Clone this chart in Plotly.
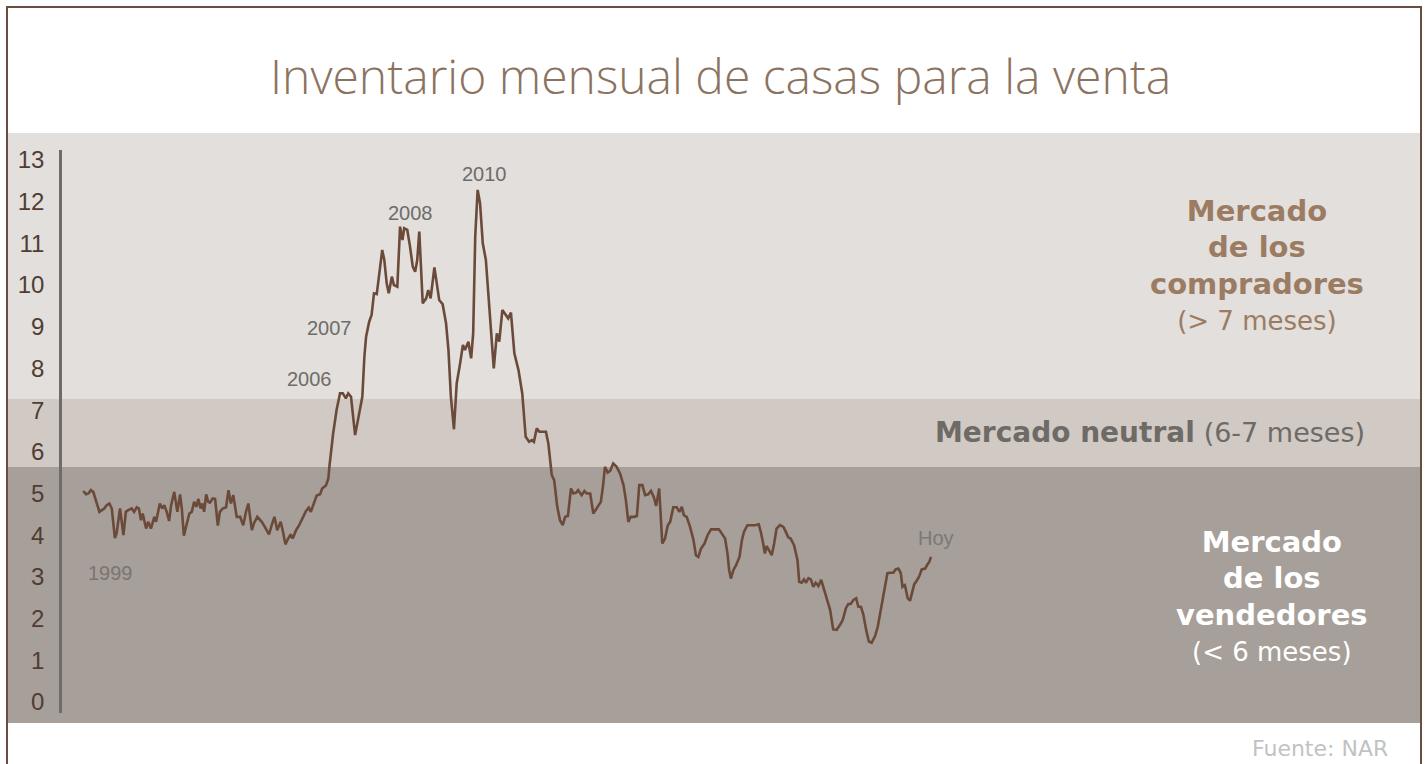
import plotly.graph_objects as go

# ---------------- data ----------------
years = [
    1999.00, 1999.08, 1999.15, 1999.22, 1999.29, 1999.37, 1999.47, 1999.54, 1999.61, 1999.68,
    1999.76, 1999.83, 1999.92, 1999.97, 2000.07, 2000.17, 2000.24, 2000.31, 2000.41, 2000.48,
    2000.56, 2000.62, 2000.68, 2000.73, 2000.83, 2000.89, 2000.97, 2001.07, 2001.12, 2001.23,
    2001.30, 2001.36, 2001.43, 2001.50, 2001.56, 2001.65, 2001.74, 2001.82, 2001.87, 2001.93,
    2002.01, 2002.09, 2002.16, 2002.23, 2002.30, 2002.35, 2002.42, 2002.47, 2002.52, 2002.58,
    2002.64, 2002.69, 2002.77, 2002.84, 2002.92, 2002.98, 2003.06, 2003.16, 2003.23, 2003.30,
    2003.37, 2003.47, 2003.57, 2003.66, 2003.74, 2003.81, 2003.91, 2003.97, 2004.07, 2004.20,
    2004.29, 2004.41, 2004.49, 2004.57, 2004.65, 2004.75, 2004.81, 2004.89, 2004.97, 2005.04,
    2005.10, 2005.20, 2005.29, 2005.39, 2005.49, 2005.57, 2005.63, 2005.70, 2005.80, 2005.90,
    2005.96, 2006.07, 2006.14, 2006.17, 2006.28, 2006.38, 2006.48, 2006.56, 2006.65, 2006.72,
    2006.80, 2006.92, 2007.01, 2007.13, 2007.19, 2007.24, 2007.33, 2007.40, 2007.47, 2007.55,
    2007.65, 2007.71, 2007.77, 2007.84, 2007.90, 2007.99, 2008.05, 2008.15, 2008.23, 2008.30,
    2008.35, 2008.44, 2008.52, 2008.60, 2008.67, 2008.73, 2008.79, 2008.83, 2008.89, 2008.99,
    2009.05, 2009.12, 2009.23, 2009.30, 2009.37, 2009.47, 2009.57, 2009.64, 2009.71, 2009.80,
    2009.88, 2009.98, 2010.06, 2010.12, 2010.22, 2010.30, 2010.36, 2010.42, 2010.49, 2010.56,
    2010.64, 2010.73, 2010.82, 2010.90, 2010.96, 2011.05, 2011.12, 2011.21, 2011.30, 2011.38,
    2011.46, 2011.56, 2011.68, 2011.79, 2011.89, 2011.99, 2012.07, 2012.13, 2012.21, 2012.29,
    2012.39, 2012.48, 2012.55, 2012.65, 2012.72, 2012.81, 2012.89, 2012.97, 2013.04, 2013.12,
    2013.21, 2013.28, 2013.36, 2013.42, 2013.52, 2013.60, 2013.67, 2013.77, 2013.86, 2013.96,
    2014.08, 2014.14, 2014.20, 2014.28, 2014.35, 2014.44, 2014.54, 2014.64, 2014.74, 2014.81,
    2014.88, 2014.95, 2015.05, 2015.13, 2015.20, 2015.29, 2015.37, 2015.46, 2015.54, 2015.63,
    2015.69, 2015.78, 2015.80, 2015.87, 2015.95, 2016.03, 2016.10, 2016.19, 2016.29, 2016.37,
    2016.44, 2016.50, 2016.58, 2016.68, 2016.78, 2016.85, 2016.92, 2017.00, 2017.10, 2017.19,
    2017.29, 2017.41, 2017.52, 2017.62, 2017.70, 2017.77, 2017.82, 2017.87, 2017.94, 2018.02,
    2018.12, 2018.19, 2018.25, 2018.35, 2018.45, 2018.57, 2018.68, 2018.74, 2018.81, 2018.86,
    2018.91, 2018.99, 2019.06, 2019.13, 2019.20, 2019.30, 2019.40, 2019.47, 2019.54, 2019.61,
    2019.71, 2019.81, 2019.86, 2019.93, 2020.00, 2020.06, 2020.13, 2020.20, 2020.27, 2020.34,
    2020.42, 2020.50, 2020.56, 2020.64, 2020.76, 2020.85, 2020.95, 2021.05, 2021.13, 2021.22,
    2021.29, 2021.36, 2021.44, 2021.52, 2021.58, 2021.66, 2021.73, 2021.81, 2021.89, 2021.97,
    2022.07, 2022.15, 2022.24, 2022.33, 2022.43, 2022.51, 2022.60, 2022.67, 2022.75, 2022.82,
    2022.87, 2022.94, 2023.02, 2023.09, 2023.16, 2023.21, 2023.30, 2023.36, 2023.43, 2023.53,
    2023.59, 2023.65, 2023.70,
]

months_supply = [
    5.06, 4.98, 5.00, 5.08, 5.04, 4.84, 4.56, 4.60, 4.64, 4.72,
    4.76, 4.64, 3.93, 4.04, 4.64, 4.00, 4.56, 4.60, 4.64, 4.56,
    4.67, 4.64, 4.36, 4.52, 4.16, 4.32, 4.16, 4.44, 4.32, 4.76,
    4.64, 4.72, 4.56, 4.34, 4.72, 5.04, 4.56, 4.98, 4.64, 3.99,
    4.24, 4.52, 4.56, 4.80, 4.68, 4.87, 4.64, 4.76, 4.56, 4.98,
    4.80, 4.78, 4.88, 4.87, 4.23, 4.56, 4.64, 4.67, 5.08, 4.76,
    4.96, 4.44, 4.44, 4.24, 4.56, 4.76, 4.12, 4.28, 4.44, 4.32,
    4.20, 4.02, 4.24, 4.44, 4.12, 4.32, 4.12, 3.78, 3.92, 4.02,
    3.92, 4.12, 4.24, 4.42, 4.58, 4.66, 4.56, 4.72, 4.95, 4.98,
    5.12, 5.19, 5.36, 5.64, 6.44, 7.00, 7.40, 7.40, 7.28, 7.40,
    7.32, 6.40, 6.84, 7.32, 8.28, 8.76, 9.12, 9.28, 9.80, 9.78,
    10.44, 10.84, 10.60, 10.04, 9.80, 10.20, 10.00, 9.96, 11.40, 11.08,
    11.36, 11.32, 10.92, 10.44, 10.32, 10.60, 11.28, 10.68, 9.56, 9.68,
    9.88, 9.68, 10.42, 10.04, 9.64, 9.54, 9.08, 8.44, 7.32, 6.54,
    7.64, 8.12, 8.56, 8.44, 8.64, 8.24, 8.84, 11.16, 12.28, 11.96,
    11.00, 10.60, 9.56, 8.76, 8.00, 8.84, 8.64, 9.40, 9.28, 9.20,
    9.34, 8.36, 7.96, 7.40, 6.36, 6.24, 6.28, 6.24, 6.56, 6.48,
    6.48, 6.48, 6.20, 5.44, 5.32, 4.68, 4.36, 4.24, 4.44, 4.46,
    5.12, 5.00, 5.02, 5.08, 4.96, 5.06, 5.00, 5.00, 4.52, 4.64,
    4.80, 5.16, 5.64, 5.50, 5.54, 5.72, 5.64, 5.48, 5.20, 4.84,
    4.32, 4.44, 4.44, 4.46, 5.20, 5.20, 4.96, 4.98, 5.06, 4.90,
    4.70, 5.12, 4.76, 3.80, 3.92, 4.24, 4.32, 4.67, 4.67, 4.56,
    4.68, 4.48, 4.44, 4.20, 3.88, 3.52, 3.48, 3.68, 3.80, 4.00,
    4.14, 4.14, 4.14, 4.02, 3.92, 3.56, 3.16, 2.96, 3.16, 3.28,
    3.48, 3.88, 4.08, 4.24, 4.24, 4.24, 4.26, 4.08, 3.80, 3.56,
    3.74, 3.60, 3.52, 3.80, 4.16, 4.24, 4.20, 4.08, 3.95, 3.92,
    3.76, 3.40, 2.88, 2.86, 2.94, 2.86, 2.97, 2.94, 2.76, 2.86,
    2.78, 2.93, 2.76, 2.49, 2.21, 1.74, 1.73, 1.85, 1.97, 2.25,
    2.35, 2.35, 2.45, 2.49, 2.29, 2.28, 2.09, 1.73, 1.45, 1.42,
    1.58, 1.81, 2.25, 2.69, 3.09, 3.10, 3.10, 3.18, 3.20, 3.09,
    2.76, 2.80, 2.49, 2.43, 2.65, 2.82, 2.93, 3.02, 3.18, 3.20,
    3.29, 3.36, 3.48,
]

tick_values = list(range(0, 14))
tick_labels = [str(v) for v in tick_values]

point_labels = ["1999", "2006", "2007", "2008", "2010", "Hoy"]
point_label_years = [1999.78, 2005.60, 2006.18, 2008.52, 2010.70, 2023.84]
point_label_values = [3.09, 7.75, 8.97, 11.73, 12.66, 3.93]

title_text = "Inventario mensual de casas para la venta"
buyers_lines = ["Mercado", "de los", "compradores"]
buyers_range = "(> 7 meses)"
neutral_bold = "Mercado neutral"
neutral_range = "(6-7 meses)"
sellers_lines = ["Mercado", "de los", "vendedores"]
sellers_range = "(< 6 meses)"
source_text = "Fuente: NAR"

# ---------------- layout helpers (pixel -> paper) ----------------
W, H = 1426, 764
L, R, T, B = 62, 6, 150, 51
PW, PH = W - L - R, H - T - B


def px(x):
    return (x - L) / PW


def py(y):
    return (H - B - y) / PH


BROWN = "#6b4a3a"
TITLE_FONT = "Open Sans"
ZONE_FONT = "DejaVu Sans"
BIG, SMALL = 29, 26


def block(bold_lines, regular_line):
    parts = [f"<span style='font-size:{BIG}px'><b>{t}</b></span>" for t in bold_lines]
    parts.append(f"<span style='font-size:{SMALL}px'>{regular_line}</span>")
    return "<br>".join(parts)


fig = go.Figure()

fig.add_trace(go.Scatter(
    x=years, y=months_supply, mode="lines",
    line=dict(color=BROWN, width=2.6),
    hoverinfo="skip", showlegend=False,
))

shapes = [
    dict(type="rect", xref="paper", yref="paper", x0=px(8), x1=px(1420), y0=py(399), y1=py(133),
         fillcolor="#e2dfdc", line=dict(width=0), layer="below"),
    dict(type="rect", xref="paper", yref="paper", x0=px(8), x1=px(1420), y0=py(467), y1=py(399),
         fillcolor="#d0c9c4", line=dict(width=0), layer="below"),
    dict(type="rect", xref="paper", yref="paper", x0=px(8), x1=px(1420), y0=py(723), y1=py(467),
         fillcolor="#a79f99", line=dict(width=0), layer="below"),
    dict(type="rect", xref="paper", yref="paper", x0=px(7), x1=px(1421), y0=py(790), y1=py(7),
         fillcolor="rgba(0,0,0,0)", line=dict(width=2, color="#6b4d3d"), layer="above"),
]

annotations = []
# title
annotations.append(dict(
    text=title_text, xref="paper", yref="paper", x=px(720), y=py(75),
    xanchor="center", yanchor="middle", showarrow=False,
    font=dict(family=TITLE_FONT, size=48, color="#8b735f", weight=300),
))

# point labels
for t, xv, yv in zip(point_labels, point_label_years, point_label_values):
    col = "#7a7571" if t == "1999" else ("#7c7976" if t == "Hoy" else "#6e6c6a")
    annotations.append(dict(
        text=t, x=xv, y=yv, xref="x", yref="y", showarrow=False,
        xanchor="center", yanchor="middle",
        font=dict(family="Liberation Sans, Arial", size=20, color=col),
    ))

# zone labels (line spacing follows the base font size 28 -> ~36 px)
annotations.append(dict(
    text=block(buyers_lines, buyers_range), xref="paper", yref="paper",
    x=px(1257), y=py(265), xanchor="center", yanchor="middle", showarrow=False,
    align="center", font=dict(family=ZONE_FONT, size=28, color="#9b7c63"),
))
annotations.append(dict(
    text=f"<span style='font-size:28px'><b>{neutral_bold}</b></span> "
         f"<span style='font-size:27px'>{neutral_range}</span>",
    xref="paper", yref="paper",
    x=px(1367), y=py(433), xanchor="right", yanchor="middle", showarrow=False,
    font=dict(family=ZONE_FONT, size=28, color="#6e6a66"),
))
annotations.append(dict(
    text=block(sellers_lines, sellers_range), xref="paper", yref="paper",
    x=px(1272), y=py(596), xanchor="center", yanchor="middle", showarrow=False,
    align="center", font=dict(family=ZONE_FONT, size=28, color="#ffffff"),
))

annotations.append(dict(
    text=source_text, xref="paper", yref="paper", x=px(1390), y=py(748),
    xanchor="right", yanchor="middle", showarrow=False,
    font=dict(family=ZONE_FONT, size=22, color="#c2c2c2"),
))

# axis ranges chosen so the data land at the reference pixel positions
x_lo = 1999 + (L - 83.3) / 34.32
x_hi = 1999 + (L + PW - 83.3) / 34.32
y_lo = (702 - (H - B)) / 41.7
y_hi = (702 - T) / 41.7

fig.update_layout(
    width=W, height=H,
    margin=dict(l=L, r=R, t=T, b=B, pad=0),
    paper_bgcolor="#ffffff", plot_bgcolor="rgba(0,0,0,0)",
    shapes=shapes, annotations=annotations, showlegend=False,
    xaxis=dict(visible=False, range=[x_lo, x_hi], fixedrange=True),
    yaxis=dict(
        range=[y_lo, y_hi], tickvals=tick_values, ticktext=tick_labels,
        showgrid=False, zeroline=False, showline=True, linecolor="#6f6b68", linewidth=2.5,
        ticks="", ticklabelstandoff=10,
        tickfont=dict(family="Liberation Sans, Arial", size=24, color="#4f3d33"),
        fixedrange=True,
    ),
)

fig.write_html("out.html", config={"displayModeBar": False},
               post_script="document.body.style.margin='0';")
